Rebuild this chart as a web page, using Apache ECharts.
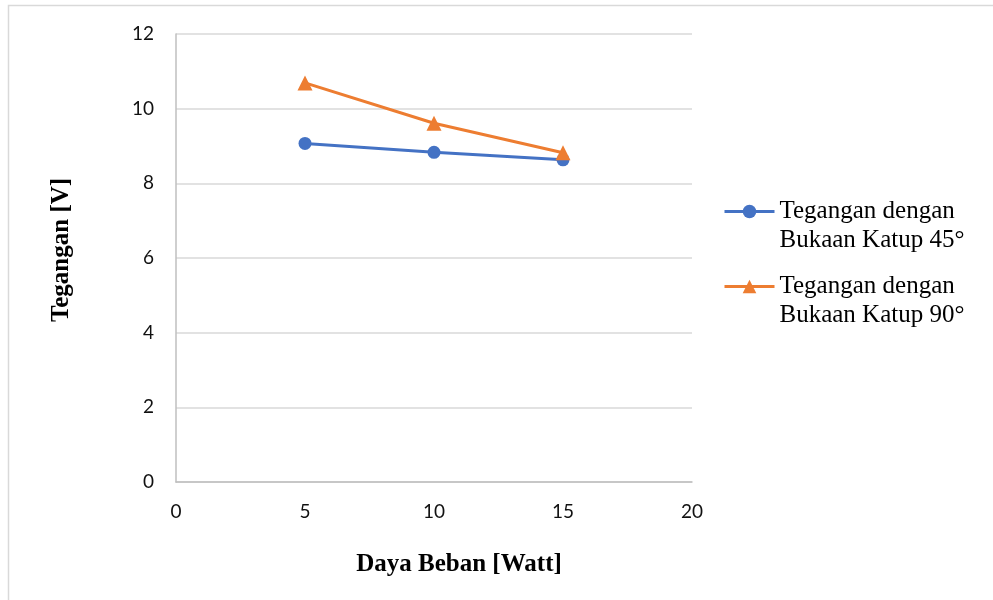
<!DOCTYPE html>
<html><head><meta charset="utf-8">
<script src="https://cdn.jsdelivr.net/npm/echarts@6/dist/echarts.min.js"></script>
<style>html,body{margin:0;padding:0;background:#fff}#c{width:993px;height:600px}</style>
</head><body><div id="c"></div>
<script>
const xValues = [5, 10, 15];
const series45 = [9.07, 8.83, 8.63];
const series90 = [10.69, 9.61, 8.82];
const seriesNames = ['Tegangan dengan\nBukaan Katup 45°', 'Tegangan dengan\nBukaan Katup 90°'];
const xTitle = 'Daya Beban [Watt]';
const yTitle = 'Tegangan [V]';

const chart = echarts.init(document.getElementById('c'), null, {renderer: 'canvas'});
const legendText = {fontFamily: 'Liberation Serif', fontSize: 25, color: '#000', lineHeight: 29};
const legendBase = {orient: 'vertical', left: 718, itemWidth: 50, itemHeight: 17, itemGap: 0,
  textStyle: legendText, selectedMode: false, lineStyle: {width: 3},
  formatter: name => '\n' + name};
chart.setOption({
  animation: false,
  backgroundColor: '#fff',
  graphic: [{type: 'rect', shape: {x: 8.5, y: 5.5, width: 1000, height: 700}, style: {fill: 'none', stroke: '#D9D9D9', lineWidth: 1.5}, silent: true}],
  grid: {left: 176, right: 301, top: 34, bottom: 118, containLabel: false},
  xAxis: {
    type: 'value', min: 0, max: 20, interval: 5,
    name: xTitle, nameLocation: 'middle', nameGap: 70,
    nameTextStyle: {fontFamily: 'Liberation Serif', fontWeight: 'bold', fontSize: 25, color: '#000', padding: [0, 0, 0, 50]},
    axisLine: {show: true, lineStyle: {color: '#BFBFBF', width: 1.5}},
    axisTick: {show: false},
    splitLine: {show: false},
    axisLabel: {fontFamily: 'Lato', fontSize: 19, color: '#111', margin: 20}
  },
  yAxis: {
    type: 'value', min: 0, max: 12, interval: 2,
    name: yTitle, nameLocation: 'middle', nameGap: 102, nameRotate: 90,
    nameTextStyle: {fontFamily: 'Liberation Serif', fontWeight: 'bold', fontSize: 25, color: '#000', padding: [0, 0, 0, 16]},
    axisLine: {show: true, lineStyle: {color: '#BFBFBF', width: 1.5}},
    axisTick: {show: false},
    splitLine: {show: true, lineStyle: {color: '#D9D9D9', width: 1.5}},
    axisLabel: {fontFamily: 'Lato', fontSize: 19, color: '#111', margin: 22}
  },
  legend: [
    Object.assign({data: [seriesNames[0]], top: 163}, legendBase),
    Object.assign({data: [seriesNames[1]], top: 238}, legendBase)
  ],
  series: [
    {name: seriesNames[0], type: 'line', data: xValues.map((x, i) => [x, series45[i]]),
     symbol: 'circle', symbolSize: 13, lineStyle: {color: '#4472C4', width: 3}, itemStyle: {color: '#4472C4'}},
    {name: seriesNames[1], type: 'line', data: xValues.map((x, i) => [x, series90[i]]),
     symbol: 'triangle', symbolSize: 15, lineStyle: {color: '#ED7D31', width: 3}, itemStyle: {color: '#ED7D31'}}
  ]
});
</script></body></html>
